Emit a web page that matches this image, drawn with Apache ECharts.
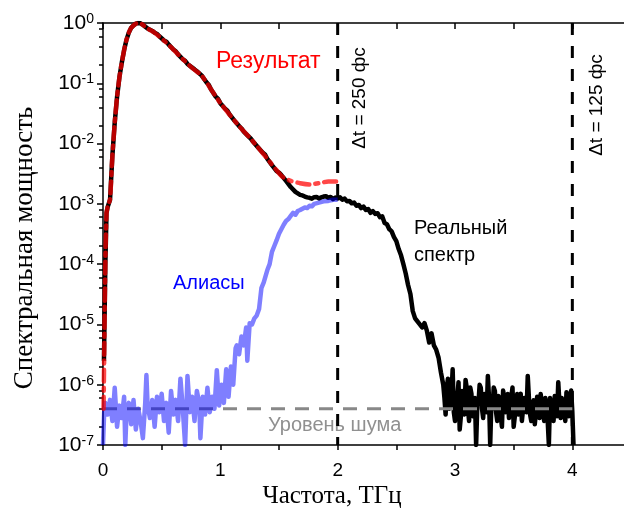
<!DOCTYPE html>
<html>
<head>
<meta charset="utf-8">
<script src="https://cdn.jsdelivr.net/npm/echarts@6/dist/echarts.min.js"></script>
<style>html,body{margin:0;padding:0;background:#fff}#c{width:624px;height:512px}</style>
</head>
<body>
<div id="c"></div>
<script>
// ---- data (frequency THz, spectral power) ----
var realSpectrum = [
  [0.008,2.5e-6],[0.02,1.0e-4],[0.03,7.1e-4],[0.04,8.9e-4],[0.06,1.17e-3],[0.08,6.3e-3],
  [0.10,2.24e-2],[0.12,6.0e-2],[0.14,0.126],[0.16,0.219],[0.18,0.355],[0.20,0.525],
  [0.22,0.692],[0.24,0.832],[0.26,0.912],[0.28,0.977],[0.30,1.0],[0.32,0.99],[0.34,0.933],
  [0.36,0.871],[0.38,0.813],[0.40,0.776],[0.42,0.74],[0.44,0.692],[0.46,0.66],[0.48,0.603],
  [0.52,0.513],[0.54,0.49],[0.56,0.437],[0.60,0.363],[0.62,0.34],[0.64,0.302],[0.68,0.251],
  [0.70,0.235],[0.72,0.209],[0.76,0.182],[0.78,0.17],[0.80,0.158],[0.84,0.135],[0.88,0.105],
  [0.90,0.095],[0.92,0.0794],[0.96,0.0603],[0.98,0.055],[1.00,0.0468],[1.04,0.038],
  [1.06,0.035],[1.08,0.0302],[1.12,0.024],[1.16,0.0195],[1.18,0.0178],[1.20,0.0158],
  [1.24,0.0132],[1.26,0.0121],[1.28,0.0107],[1.32,0.0087],[1.36,0.0071],[1.38,0.0066],
  [1.40,0.0056],[1.44,0.0044],[1.48,0.0035],[1.50,0.0033],[1.52,0.0030],[1.56,0.0024],
  [1.60,0.0019],[1.64,0.00158],[1.68,0.00141],[1.70,0.00138],[1.72,0.00132],[1.74,0.00128],
  [1.76,0.00126],[1.78,0.00122],[1.80,0.00129],[1.82,0.0013],[1.84,0.00123],[1.86,0.00128],
  [1.88,0.00132],[1.90,0.00134],[1.92,0.00126],[1.94,0.0013],[1.96,0.0012],[1.98,0.00127],
  [2.00,0.00123],[2.02,0.00128],[2.04,0.00117],[2.06,0.00122],[2.08,0.0011],[2.10,0.00112],
  [2.12,0.00102],[2.14,0.00105],[2.16,0.00093],[2.18,0.00096],[2.20,0.00085],[2.22,0.0009],
  [2.24,0.00079],[2.26,0.00082],[2.28,0.00071],[2.30,0.00076],[2.32,0.00068],[2.34,0.0007],
  [2.36,0.0006],[2.38,0.00062],[2.40,0.00048],[2.42,0.00046],[2.44,0.00038],[2.46,0.00035],
  [2.48,0.00028],[2.50,0.00024],[2.52,0.000178],[2.54,0.00014],
  [2.56,0.0001],[2.58,7.0e-5],[2.60,4.5e-5],[2.62,3.2e-5],[2.64,1.66e-5],[2.66,1.26e-5],[2.68,1.12e-5],
  [2.70,1.0e-5],[2.72,8.9e-6],[2.74,1.05e-5],[2.76,7.9e-6],[2.78,5.0e-6],[2.80,7.1e-6],
  [2.82,4.5e-6],[2.84,3.8e-6],[2.86,2.8e-6],[2.88,1.6e-6],
  [2.90,1.0e-6],[2.91,6.0e-7],[2.92,3.2e-7],[2.93,9.0e-7],[2.94,1.26e-6],[2.95,4.0e-7],
  [2.96,5.0e-7],[2.97,7.0e-7],[2.98,1.8e-6],[2.99,3.5e-7],[3.00,2.5e-7],[3.01,5.0e-7],
  [3.02,6.3e-7],[3.03,1.1e-6],[3.04,1.8e-7],[3.05,3.0e-7],[3.06,7.9e-7],[3.07,6.0e-7],
  [3.08,3.2e-7],[3.09,1.2e-6],[3.10,8.9e-7],[3.11,4.0e-7],[3.12,2.5e-7],[3.13,9.0e-7],
  [3.14,7.1e-7],[3.15,3.0e-7],[3.16,4.0e-7],[3.17,6.0e-7],[3.18,1.0e-7],[3.19,4.5e-7],
  [3.20,5.0e-7],[3.21,1.0e-6],[3.22,8.9e-7],[3.23,4.0e-7],[3.24,2.8e-7],[3.25,7.0e-7],
  [3.26,6.3e-7],[3.27,3.5e-7],[3.28,1.4e-6],[3.29,6.0e-7],[3.30,1.0e-7],[3.31,5.0e-7],
  [3.32,4.0e-7],[3.33,9.0e-7],[3.34,7.9e-7],[3.35,3.5e-7],[3.36,2.5e-7],[3.37,6.5e-7],
  [3.38,5.6e-7],[3.39,3.0e-7],[3.40,2.0e-7],[3.41,8.0e-7],[3.42,6.3e-7],[3.43,3.5e-7],
  [3.44,4.5e-7],[3.45,7.0e-7],[3.46,2.8e-7],[3.47,4.0e-7],[3.48,6.3e-7],[3.49,9.0e-7],
  [3.50,2.0e-7],[3.51,3.0e-7],[3.52,5.0e-7],[3.53,7.0e-7],[3.54,3.2e-7],[3.55,4.5e-7],
  [3.56,7.1e-7],[3.57,2.5e-7],[3.58,2.5e-7],[3.59,6.0e-7],[3.60,5.0e-7],[3.61,3.5e-7],
  [3.62,1.4e-6],[3.63,6.0e-7],[3.64,3.2e-7],[3.65,2.5e-7],[3.66,5.0e-7],[3.67,5.5e-7],
  [3.68,2.2e-7],[3.69,3.5e-7],[3.70,6.3e-7],[3.71,4.5e-7],[3.72,2.8e-7],[3.73,7.0e-7],
  [3.74,5.0e-7],[3.75,3.5e-7],[3.76,2.5e-7],[3.77,6.0e-7],[3.78,5.6e-7],[3.79,2.5e-7],
  [3.80,1.0e-7],[3.81,6.0e-7],[3.82,4.0e-7],[3.83,3.5e-7],[3.84,2.5e-7],[3.85,6.5e-7],
  [3.86,5.0e-7],[3.87,3.0e-7],[3.88,1.1e-6],[3.89,5.0e-7],[3.90,2.8e-7],[3.91,6.0e-7],
  [3.92,5.0e-7],[3.93,3.5e-7],[3.94,2.5e-7],[3.95,7.5e-7],[3.96,4.5e-7],[3.97,3.0e-7],
  [3.98,6.3e-7],[3.99,8.0e-7],[4.00,3.5e-7],[4.01,1.0e-7]
];
var resultSpectrum = [
  [0.005,4e-7],[0.01,3e-6],[0.02,1.1e-4],[0.03,7e-4],[0.04,9e-4],[0.06,1.2e-3],[0.08,6.3e-3],
  [0.10,2.2e-2],[0.12,6e-2],[0.14,0.126],[0.16,0.22],[0.18,0.355],[0.20,0.525],[0.22,0.69],
  [0.24,0.83],[0.26,0.91],[0.28,0.975],[0.30,1.0],[0.32,0.99],[0.34,0.93],[0.38,0.81],
  [0.44,0.69],[0.52,0.51],[0.60,0.363],[0.68,0.251],[0.76,0.18],[0.84,0.135],[0.92,0.08],
  [1.00,0.047],[1.08,0.030],[1.16,0.0195],[1.24,0.0132],[1.32,0.0087],[1.40,0.0056],
  [1.48,0.0036],[1.53,0.0028],[1.60,0.0024],[1.68,0.0022],[1.76,0.0021],[1.84,0.0022],
  [1.92,0.00235],[2.00,0.00235]
];
var aliasSpectrum = [
  [0.00,1e-7],[0.01,3.5e-7],[0.02,5.0e-7],[0.04,3.2e-7],[0.06,5.6e-7],[0.08,2.5e-7],
  [0.10,8.9e-7],[0.12,2.0e-7],[0.14,4.5e-7],[0.16,2.8e-7],[0.18,6.3e-7],[0.19,1.0e-7],
  [0.20,3.2e-7],[0.22,5.0e-7],[0.24,2.2e-7],[0.26,5.6e-7],[0.28,1.8e-7],[0.30,4.0e-7],
  [0.32,2.5e-7],[0.34,1.3e-7],[0.36,5.0e-7],[0.37,1.45e-6],[0.38,4.5e-7],[0.40,2.8e-7],
  [0.42,5.6e-7],[0.44,2.0e-7],[0.46,6.3e-7],[0.48,3.5e-7],[0.50,7.1e-7],[0.52,2.5e-7],
  [0.54,5.0e-7],[0.56,1.6e-7],[0.58,7.9e-7],[0.60,3.2e-7],[0.62,5.6e-7],[0.64,2.5e-7],
  [0.66,1.26e-6],[0.68,4.0e-7],[0.70,1.0e-7],[0.72,1.4e-6],[0.74,3.5e-7],[0.76,6.3e-7],
  [0.78,2.5e-7],[0.80,7.9e-7],[0.82,5.0e-7],[0.83,1.3e-7],[0.85,6.3e-7],[0.87,3.2e-7],
  [0.89,8.9e-7],[0.91,3.5e-7],[0.93,6.3e-7],[0.95,4.0e-7],[0.97,1.74e-6],[0.99,4.5e-7],
  [1.01,1.0e-6],[1.03,5.0e-7],[1.05,1.8e-6],[1.07,6.3e-7],[1.09,2.0e-6],[1.11,1.0e-6],
  [1.13,4.0e-6],[1.14,4.5e-6],[1.16,3.2e-6],[1.18,6.3e-6],[1.20,4.5e-6],[1.22,8.9e-6],
  [1.23,2.5e-6],[1.25,1.05e-5],[1.27,1.0e-5],[1.29,1.26e-5],[1.31,1.4e-5],[1.33,1.8e-5],
  [1.35,4.0e-5],[1.37,5.0e-5],[1.40,7.9e-5],[1.42,1.0e-4],[1.44,1.6e-4],[1.46,2.0e-4],
  [1.48,2.5e-4],[1.50,3.2e-4],[1.52,3.8e-4],[1.54,4.5e-4],[1.56,5.2e-4],[1.58,5.6e-4],
  [1.60,6.3e-4],[1.62,7.1e-4],[1.64,6.6e-4],[1.66,7.6e-4],[1.68,7.9e-4],[1.70,8.3e-4],
  [1.72,8.7e-4],[1.74,8.5e-4],[1.76,9.3e-4],[1.78,9.1e-4],[1.80,1.0e-3],[1.84,1.05e-3],
  [1.88,1.1e-3],[1.92,1.12e-3],[1.96,1.17e-3],[2.00,1.17e-3]
];
var noiseLevel = [[0,4e-7],[4,4e-7]];
var cutoff250 = [[2,1],[2,1e-7]];
var cutoff125 = [[4,1],[4,1e-7]];
var majorTicksY = [1e-7,1e-6,1e-5,1e-4,1e-3,1e-2,1e-1,1];
var minorTicksY = [2e-7,4e-7,6e-7,8e-7,2e-6,4e-6,6e-6,8e-6,2e-5,4e-5,6e-5,8e-5,
  2e-4,4e-4,6e-4,8e-4,2e-3,4e-3,6e-3,8e-3,2e-2,4e-2,6e-2,8e-2,0.2,0.4,0.6,0.8];

var SANS = '"Liberation Sans", Arial, sans-serif';
var SERIF = '"Liberation Serif", "Times New Roman", serif';

var chart = echarts.init(document.getElementById('c'), null, {renderer:'canvas'});
var axisLine = {show:true, lineStyle:{color:'#000', width:1.5}};
chart.setOption({
  animation:false,
  backgroundColor:'#fff',
  grid:{left:103, top:23, width:528, height:422, containLabel:false, outerBoundsMode:'none'},
  xAxis:[
    {type:'value', min:0, max:4.5, interval:0.5, position:'bottom',
     axisLine:axisLine, splitLine:{show:false},
     axisTick:{show:true, inside:false, length:5, lineStyle:{color:'#000', width:1.5}},
     axisLabel:{margin:16, color:'#000', fontSize:19, fontFamily:SANS,
       formatter:function(v){return Math.abs(v-Math.round(v))<1e-6 && v<4.4 ? String(Math.round(v)) : '';}}},
    {type:'value', min:0, max:4.5, interval:0.5, position:'top',
     axisLine:axisLine, splitLine:{show:false},
     axisTick:{show:true, inside:true, length:6, lineStyle:{color:'#000', width:1.5}},
     axisLabel:{show:false}}
  ],
  yAxis:[
    {type:'log', logBase:10, min:1e-7, max:1, position:'left',
     axisLine:axisLine, splitLine:{show:false}, minorTick:{show:false},
     axisTick:{show:true, inside:false, length:6, customValues:majorTicksY, lineStyle:{color:'#000', width:1.5}},
     axisLabel:{margin:9, color:'#000', customValues:majorTicksY,
       formatter:function(v){var e=Math.round(Math.log10(v));return '{b|10}{s|'+e+'}';},
       rich:{b:{fontSize:21, fontFamily:SANS, color:'#000', lineHeight:22},
             s:{fontSize:14, fontFamily:SANS, color:'#000', verticalAlign:'top', lineHeight:22, padding:[0,0,0,0]}}}},
    {type:'log', logBase:10, min:1e-7, max:1, position:'left',
     axisLine:{show:false}, splitLine:{show:false},
     axisTick:{show:true, inside:false, length:4, customValues:minorTicksY, lineStyle:{color:'#000', width:1.5}},
     axisLabel:{show:false}}
  ],
  series:[
    {type:'line', name:'real', data:realSpectrum, showSymbol:false, symbol:'none', z:2,
     lineStyle:{color:'#000', width:4.5, join:'round'}},
    {type:'line', name:'noise', data:noiseLevel, showSymbol:false, symbol:'none', z:3,
     lineStyle:{color:'#888', width:3, type:[14,10]}},
    {type:'line', name:'alias', data:aliasSpectrum, showSymbol:false, symbol:'none', z:4,
     lineStyle:{color:'rgba(0,0,255,0.5)', width:4.5, join:'round'}},
    {type:'line', name:'result', data:resultSpectrum, showSymbol:false, symbol:'none', z:5, smooth:0.2,
     lineStyle:{color:'rgba(255,0,0,0.72)', width:4.5, type:[12,6,3,6], cap:'round'}},
    {type:'line', name:'cut250', data:cutoff250, showSymbol:false, symbol:'none', z:6, clip:false,
     lineStyle:{color:'#000', width:3, type:[12,11]}},
    {type:'line', name:'cut125', data:cutoff125, showSymbol:false, symbol:'none', z:6, clip:false,
     lineStyle:{color:'#000', width:3, type:[12,11]}}
  ],
  graphic:[
    {type:'text', x:216, y:62, style:{text:'Результат', fill:'#ff0000', fontSize:23, fontFamily:SANS, align:'left', verticalAlign:'middle'}},
    {type:'text', x:414, y:228, style:{text:'Реальный', fill:'#000', fontSize:20, fontFamily:SANS, align:'left', verticalAlign:'middle'}},
    {type:'text', x:414, y:255, style:{text:'спектр', fill:'#000', fontSize:20, fontFamily:SANS, align:'left', verticalAlign:'middle'}},
    {type:'text', x:173, y:283, style:{text:'Алиасы', fill:'#0000ff', fontSize:20, fontFamily:SANS, align:'left', verticalAlign:'middle'}},
    {type:'text', x:268, y:425, style:{text:'Уровень шума', fill:'#909090', fontSize:20, fontFamily:SANS, align:'left', verticalAlign:'middle'}},
    {type:'text', x:360, y:98, rotation:Math.PI/2, style:{text:'Δt = 250 фс', fill:'#000', fontSize:19, fontFamily:SANS, align:'center', verticalAlign:'middle'}},
    {type:'text', x:597, y:105, rotation:Math.PI/2, style:{text:'Δt = 125 фс', fill:'#000', fontSize:19, fontFamily:SANS, align:'center', verticalAlign:'middle'}},
    {type:'text', x:25, y:248, rotation:Math.PI/2, style:{text:'Спектральная мощность', fill:'#000', fontSize:27, fontFamily:SERIF, align:'center', verticalAlign:'middle'}},
    {type:'text', x:332, y:496, style:{text:'Частота, ТГц', fill:'#000', fontSize:25, fontFamily:SERIF, align:'center', verticalAlign:'middle'}}
  ]
});
</script>
</body>
</html>
